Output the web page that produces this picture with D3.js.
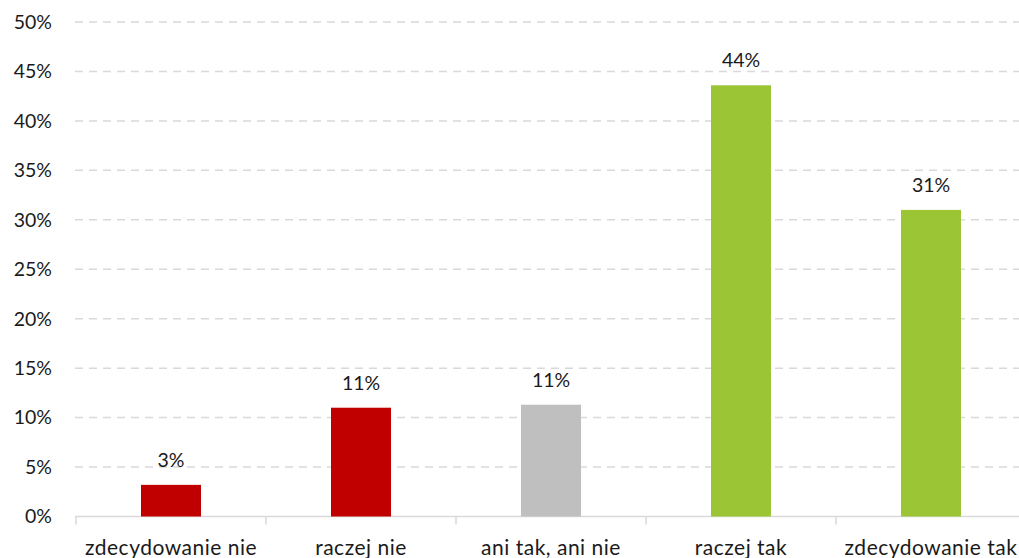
<!DOCTYPE html>
<html><head><meta charset="utf-8">
<script src="https://cdn.jsdelivr.net/npm/d3@7"></script>
<style>body{margin:0;background:#fff}svg{display:block}text{font-family:Lato,"Open Sans",sans-serif;fill:#1a1a1a}</style>
</head><body><svg id="c" width="1019" height="558"></svg>
<script>
const categories = ["zdecydowanie nie","raczej nie","ani tak, ani nie","raczej tak","zdecydowanie tak"];
const values = [3.2, 11.0, 11.3, 43.6, 31.0];
const labels = ["3%","11%","11%","44%","31%"];
const colors = ["#c00000","#c00000","#bfbfbf","#9bc534","#9bc534"];
const yTicks = [0,5,10,15,20,25,30,35,40,45,50];

const svg = d3.select("#c");
const x = d3.scaleBand().domain(categories).range([76,1026]).paddingInner(0).paddingOuter(0);
const y = d3.scaleLinear().domain([0,50]).range([516.5,22]);
const bw = 60;

svg.append("g").selectAll("line").data(yTicks.filter(d=>d>0)).join("line")
  .attr("x1",75).attr("x2",1019).attr("y1",d=>y(d)).attr("y2",d=>y(d))
  .attr("stroke","#d9d9d9").attr("stroke-width",1.5).attr("stroke-dasharray","8,6");

svg.append("g").selectAll("text").data(yTicks).join("text")
  .attr("x",52).attr("y",d=>y(d)).attr("dy","0.35em").attr("text-anchor","end")
  .attr("font-size",19.5).text(d=>d+"%");

svg.append("line").attr("x1",75).attr("x2",1019).attr("y1",y(0)).attr("y2",y(0))
  .attr("stroke","#d9d9d9").attr("stroke-width",1.5);
const bounds = categories.map(c=>x(c)).concat([x(categories[4])+x.bandwidth()]);
svg.append("g").selectAll("line").data(bounds).join("line")
  .attr("x1",d=>d).attr("x2",d=>d).attr("y1",y(0)).attr("y2",y(0)+8)
  .attr("stroke","#d9d9d9").attr("stroke-width",1.5);

svg.append("g").selectAll("rect").data(values).join("rect")
  .attr("x",(d,i)=>x(categories[i])+x.bandwidth()/2-bw/2).attr("width",bw)
  .attr("y",d=>y(d)).attr("height",d=>y(0)-y(d)).attr("fill",(d,i)=>colors[i]);

svg.append("g").selectAll("text").data(values).join("text")
  .attr("x",(d,i)=>x(categories[i])+x.bandwidth()/2).attr("y",d=>y(d)-18)
  .attr("text-anchor","middle").attr("font-size",19.5).text((d,i)=>labels[i]);

svg.append("g").selectAll("text").data(categories).join("text")
  .attr("x",d=>x(d)+x.bandwidth()/2).attr("y",555)
  .attr("text-anchor","middle").attr("font-size",21).attr("letter-spacing","0.5px").text(d=>d);
</script></body></html>
